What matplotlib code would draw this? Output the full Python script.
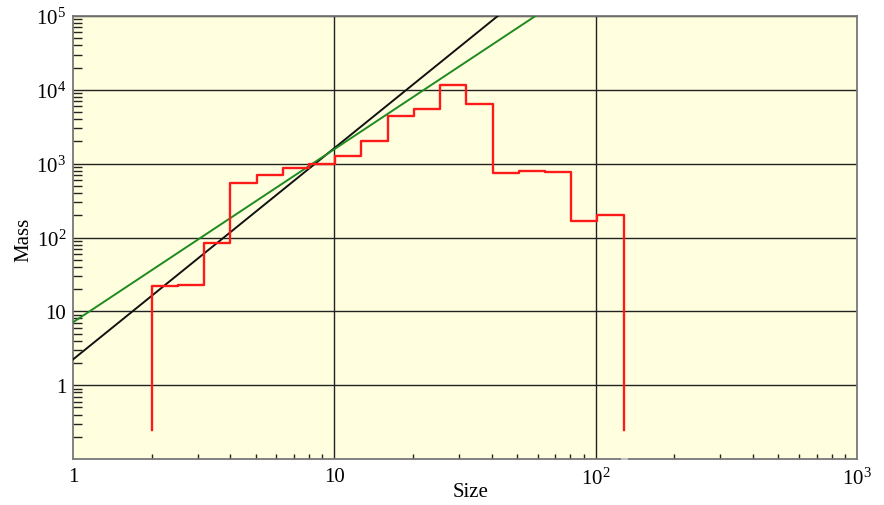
import matplotlib
matplotlib.use("Agg")
import matplotlib.pyplot as plt
from matplotlib.ticker import LogLocator, FixedLocator, FixedFormatter, NullFormatter

# ----------------------------
# Data
# ----------------------------

# histogram bin edges (Size) and bin heights (Mass)
bin_edges = [2.0, 2.52, 3.17, 4.0, 5.04, 6.35, 8.0, 10.08, 12.7, 16.0,
             20.2, 25.4, 32.0, 40.3, 50.8, 64.0, 80.6, 101.6, 128.0]
bin_mass = [22, 22.8, 84.5, 548, 710, 883, 980, 1283, 2029, 4365,
            5500, 11720, 6485, 755, 797, 779, 168, 202]
floor_mass = 0.25

# fitted power laws, given by their end points
black_size = [1.0, 42.2]
black_mass = [2.23, 1.0e5]
green_size = [1.0, 58.8]
green_mass = [7.1, 1.0e5]

x_ticks = [1, 10, 100, 1000]
x_labels = ["1", "10", r"$10^{2}$", r"$10^{3}$"]
y_ticks = [1, 10, 100, 1000, 1e4, 1e5]
y_labels = ["1", "10", r"$10^{2}$", r"$10^{3}$", r"$10^{4}$", r"$10^{5}$"]

# ----------------------------
# Style
# ----------------------------
plt.rcParams["font.family"] = ["Liberation Serif", "DejaVu Serif"]
plt.rcParams["mathtext.fontset"] = "custom"
plt.rcParams["mathtext.rm"] = "Liberation Serif"
plt.rcParams["mathtext.it"] = "Liberation Serif"
plt.rcParams["mathtext.default"] = "rm"

fig = plt.figure(figsize=(8.84, 5.06), dpi=100)
ax = fig.add_axes([73 / 884, 46 / 506, 784 / 884, 443 / 506])
ax.set_facecolor("#ffffe0")

ax.set_xscale("log")
ax.set_yscale("log")
ax.set_xlim(1, 1000)
ax.set_ylim(0.1, 1e5)

# decade grid
for v in x_ticks[1:-1]:
    ax.axvline(v, color="#222222", lw=1.0, zorder=1)
for v in y_ticks:
    ax.axhline(v, color="#222222", lw=1.0, zorder=1)

# power-law lines
ax.plot(black_size, black_mass, color="#111111", lw=1.4, zorder=3)
ax.plot(green_size, green_mass, color="#1f8a1f", lw=1.4, zorder=3)

# step histogram
xs = [bin_edges[0]]
ys = [floor_mass]
for i, m in enumerate(bin_mass):
    xs += [bin_edges[i], bin_edges[i + 1]]
    ys += [m, m]
xs.append(bin_edges[-1])
ys.append(floor_mass)
ax.plot(xs, ys, color="#ff1a1a", lw=1.7, zorder=4)

# small white gap in the bottom spine under the last edge
ax.plot([bin_edges[-1], bin_edges[-1]], [0.1, 0.104], color="white", lw=5,
        solid_capstyle="butt", clip_on=False, zorder=10)

# ticks
ax.xaxis.set_major_locator(FixedLocator(x_ticks))
ax.xaxis.set_major_formatter(FixedFormatter(x_labels))
ax.yaxis.set_major_locator(FixedLocator(y_ticks))
ax.yaxis.set_major_formatter(FixedFormatter(y_labels))
ax.xaxis.set_minor_locator(LogLocator(base=10, subs=range(2, 10), numticks=20))
ax.yaxis.set_minor_locator(LogLocator(base=10, subs=range(2, 10), numticks=20))
ax.xaxis.set_minor_formatter(NullFormatter())
ax.yaxis.set_minor_formatter(NullFormatter())

ax.tick_params(axis="both", which="major", length=0, labelsize=15, pad=6)
ax.tick_params(axis="x", which="minor", direction="in", length=3.5, width=1.0, color="#222222")
ax.tick_params(axis="y", which="minor", direction="in", length=6.5, width=1.0, color="#222222")
ax.tick_params(axis="y", which="major", pad=5)

for s in ax.spines.values():
    s.set_color("#777777")
    s.set_linewidth(1.3)

fig.text(24 / 884, 1 - 240 / 506, "Mass", rotation=90, ha="center", va="center", fontsize=15)
fig.text(471 / 884, 1 - 493 / 506, "Size", ha="center", va="center", fontsize=15)

fig.savefig("out.png", dpi=100)
plt.close(fig)
